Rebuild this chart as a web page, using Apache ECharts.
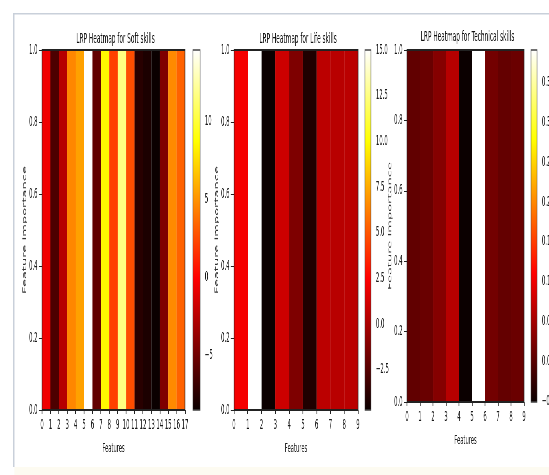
<!DOCTYPE html>
<html>
<head>
<meta charset="utf-8">
<script src="https://cdn.jsdelivr.net/npm/echarts@6/dist/echarts.min.js"></script>
<style>
  html, body { margin: 0; padding: 0; background: #fff; overflow: hidden; }
  #wrap { width: 549px; height: 475px; overflow: hidden; }
  /* the source figure is a horizontally squeezed matplotlib export */
  #chart { width: 1372px; height: 475px; transform: scaleX(0.40015); transform-origin: 0 0; }
</style>
</head>
<body>
<div id="wrap"><div id="chart"></div></div>
<script>
// LRP relevance per feature
const softFeatures = [0, 1, 2, 3, 4, 5, 6, 7, 8, 9, 10, 11, 12, 13, 14, 15, 16, 17]
const softValues = [-0.6, -6.2, -2.6, 4.6, 5.5, 14.6, -5.5, 8.5, 2.1, 11.7, 2.6, -7.5, -7.9, -8.5, -4.5, 4.7, 3.3]
const softBarTicks = [-5, 0, 5, 10]

const lifeFeatures = [0, 1, 2, 3, 4, 5, 6, 7, 8, 9]
const lifeValues = [2.2, 15.0, -4.7, 1.0, -1.3, -4.1, 0.5, 0.4, 0.45]
const lifeBarTicks = [-2.5, 0, 2.5, 5, 7.5, 10, 12.5, 15]

const techFeatures = [0, 1, 2, 3, 4, 5, 6, 7, 8, 9]
const techValues = [0.006, 0.011, 0.03, 0.062, -0.051, 0.391, 0.018, 0.008, 0.012]
const techBarTicks = [-0.05, 0, 0.05, 0.1, 0.15, 0.2, 0.25, 0.3, 0.35]

const S = 0.40015
const X = (px) => px / S   // screen x -> unsqueezed canvas x

const FONT = '"DejaVu Sans", sans-serif'

// matplotlib "hot" colormap
const hot = (t) => {
  const c = (v) => Math.max(0, Math.min(1, v))
  const r = c(0.0416 + t * (1 - 0.0416) / 0.365079)
  const g = c((t - 0.365079) / (0.746032 - 0.365079))
  const b = c((t - 0.746032) / (1 - 0.746032))
  return 'rgb(' + Math.round(r * 255) + ',' + Math.round(g * 255) + ',' + Math.round(b * 255) + ')'
}

const panels = [
  { title: 'LRP Heatmap for Soft skills', feats: softFeatures, vals: softValues, barTicks: softBarTicks,
    left: 42, right: 185, top: 50, height: 360, barLeft: 193, barRight: 200, ylabelX: 28,
    fmt: (v) => (v < 0 ? '\u2212' + Math.abs(v) : String(v)) },
  { title: 'LRP Heatmap for Life skills', feats: lifeFeatures, vals: lifeValues, barTicks: lifeBarTicks,
    left: 234, right: 358, top: 50, height: 360, barLeft: 365, barRight: 371, ylabelX: 224,
    fmt: (v) => (v < 0 ? '\u2212' + Math.abs(v).toFixed(1) : v.toFixed(1)) },
  { title: 'LRP Heatmap for Technical skills', feats: techFeatures, vals: techValues, barTicks: techBarTicks,
    left: 407, right: 524, top: 50, height: 352, barLeft: 531, barRight: 537, ylabelX: 397,
    fmt: (v) => (v < 0 ? '\u2212' + Math.abs(v).toFixed(2) : v.toFixed(2)) }
]

const tickText = { fontFamily: FONT, fontSize: 13.5, color: '#1a1a1a' }

const title = []
const grid = []
const xAxis = []
const yAxis = []
const series = []

panels.forEach((p, k) => {
  const vmin = Math.min(...p.vals)
  const vmax = Math.max(...p.vals)
  const n = p.feats.length - 1

  title.push({
    text: p.title,
    left: X((p.left + p.right) / 2),
    top: k === 2 ? 25 : 27,
    textAlign: 'center',
    textStyle: { fontFamily: FONT, fontSize: 14.5, fontWeight: 'normal', color: '#111' }
  })

  // outerBoundsMode 'none': keep the grids where they are even if labels run off the canvas
  grid.push({ left: X(p.left), top: p.top, width: X(p.right) - X(p.left), height: p.height,
    outerBoundsMode: 'none',
    show: true, borderColor: '#222', borderWidth: 1.8, backgroundColor: 'transparent', z: 5 })
  grid.push({ left: X(p.barLeft), top: p.top, width: X(p.barRight) - X(p.barLeft), height: p.height,
    outerBoundsMode: 'none',
    show: true, borderColor: '#444', borderWidth: 1.6, backgroundColor: 'transparent', z: 5 })

  const xMain = xAxis.length
  xAxis.push({
    gridIndex: 2 * k, type: 'value', min: 0, max: n, interval: 1,
    name: 'Features', nameLocation: 'middle', nameGap: 32,
    nameTextStyle: { fontFamily: FONT, fontSize: 13, color: '#222' },
    axisLine: { show: false },
    axisTick: { show: true, length: 4, lineStyle: { color: '#222', width: 2 } },
    axisLabel: { ...tickText, margin: 8, interval: 0, showMinLabel: true, showMaxLabel: true },
    splitLine: { show: false }
  })
  const xBar = xAxis.length
  xAxis.push({ gridIndex: 2 * k + 1, type: 'value', min: 0, max: 1, show: false })

  const yMain = yAxis.length
  yAxis.push({
    gridIndex: 2 * k, type: 'value', min: 0, max: 1, interval: 0.2,
    name: 'Feature Importance', nameLocation: 'middle', nameGap: X(p.left) - X(p.ylabelX),
    nameTextStyle: { fontFamily: FONT, fontSize: 13, color: '#333' },
    axisLine: { show: false },
    axisTick: { show: true, length: 8, lineStyle: { color: '#222' } },
    axisLabel: { ...tickText, margin: 11, formatter: (v) => v.toFixed(1) },
    splitLine: { show: false }
  })
  // colour scale axis (labels only)
  yAxis.push({
    gridIndex: 2 * k + 1, type: 'value', position: 'right', min: vmin, max: vmax,
    axisLine: { show: false },
    axisTick: { show: true, length: 8, customValues: p.barTicks, lineStyle: { color: '#222' } },
    axisLabel: { ...tickText, margin: 12, customValues: p.barTicks, formatter: p.fmt },
    splitLine: { show: false }
  })
  // normalised axis the colorbar strip is drawn on
  const yBar = yAxis.length
  yAxis.push({ gridIndex: 2 * k + 1, type: 'value', min: 0, max: 1, show: false })

  // one column per feature, coloured by its relevance on the hot scale
  series.push({
    type: 'custom',
    xAxisIndex: xMain, yAxisIndex: yMain,
    data: p.vals.map((v, i) => [p.feats[i], v]),
    encode: { x: 0 },
    clip: false,
    renderItem: (params, api) => {
      const i = api.value(0)
      const a = api.coord([i, 1])
      const b = api.coord([i + 1, 0])
      return {
        type: 'rect',
        shape: { x: a[0], y: a[1], width: b[0] - a[0], height: b[1] - a[1] },
        style: { fill: hot((api.value(1) - vmin) / (vmax - vmin)) }
      }
    }
  })

  // colorbar strip
  series.push({
    type: 'custom',
    xAxisIndex: xBar, yAxisIndex: yBar,
    data: [[0, 0]],
    clip: false,
    z: 3,
    renderItem: (params, api) => {
      const a = api.coord([0, 1])
      const b = api.coord([1, 0])
      return {
        type: 'rect',
        shape: { x: a[0], y: a[1], width: b[0] - a[0], height: b[1] - a[1] },
        style: {
          fill: new echarts.graphic.LinearGradient(0, 0, 0, 1, [
            { offset: 0, color: hot(1) },
            { offset: 1 - 0.746032, color: hot(0.746032) },
            { offset: 1 - 0.365079, color: hot(0.365079) },
            { offset: 1, color: hot(0) }
          ])
        }
      }
    }
  })
})

const chart = echarts.init(document.getElementById('chart'))
chart.setOption({
  backgroundColor: '#fff',
  animation: false,
  title,
  grid,
  xAxis,
  yAxis,
  series,
  graphic: [
    { type: 'rect', shape: { x: X(13), y: 13, width: X(549), height: 1.5 }, style: { fill: '#c9d0da' } },
    { type: 'rect', shape: { x: X(13), y: 13, width: X(1.5), height: 454 }, style: { fill: '#c9d0da' } },
    { type: 'rect', shape: { x: X(14.5), y: 467, width: X(549), height: 8 }, style: { fill: '#fdfbf1' } }
  ]
})
</script>
</body>
</html>
